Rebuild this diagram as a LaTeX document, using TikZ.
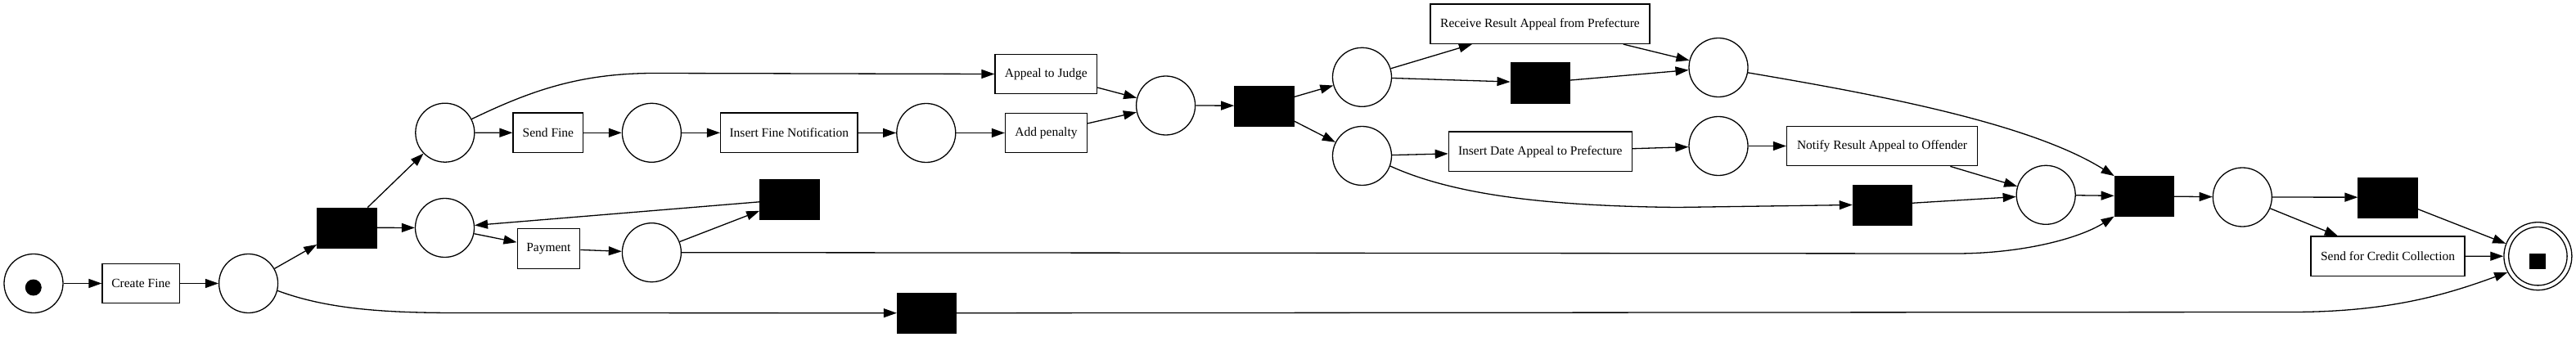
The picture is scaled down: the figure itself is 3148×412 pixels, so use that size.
\documentclass[tikz,border=0pt]{standalone}
\usepackage{fontspec}
\setmainfont{Liberation Serif}
\usetikzlibrary{arrows.meta}
\begin{document}
\begin{tikzpicture}[x=1pt,y=-1pt,
  place/.style={circle,draw,line width=1.3pt,minimum size=72pt,inner sep=0pt},
  trans/.style={rectangle,fill=black,draw=black,minimum width=72.5pt,minimum height=49pt,inner sep=0pt},
  act/.style={rectangle,draw,line width=1.3pt,minimum height=48.5pt,inner sep=0pt,font=\fontsize{15.5}{18}\selectfont},
  arc/.style={-{Triangle[length=16pt,width=11pt]},line width=1.3pt},
]
\useasboundingbox (0,0) rectangle (3148,412);
% places
\node[place] (start) at (41,346.5) {};
\node[circle,fill=black,minimum size=20pt,inner sep=0pt] (tok) at (40.8,351.5) {};
\node[place] (p1) at (303.6,346.5) {};
\node[place] (psend) at (543.8,162.2) {};
\node[place] (ppay) at (543.5,278.5) {};
\node[place] (p2) at (796.4,162.3) {};
\node[place] (p3) at (1131.8,162.5) {};
\node[place] (pm) at (1424.6,129) {};
\node[place] (pup) at (1664.5,94.3) {};
\node[place] (pdown) at (1664.5,190.5) {};
\node[place] (prr) at (2100,82.5) {};
\node[place] (pid) at (2100,178.5) {};
\node[place] (pj) at (2500.2,238.3) {};
\node[place] (pk) at (2740.3,241) {};
\node[place] (pap) at (796.4,308.7) {};
\node[circle,draw,line width=1.3pt,minimum size=83pt,inner sep=0pt] (end) at (3101.4,313.2) {};
\node[circle,draw,line width=1.3pt,minimum size=71.4pt,inner sep=0pt] (endin) at (3101.4,313.2) {};
\node[rectangle,fill=black,minimum width=20pt,minimum height=19pt,inner sep=0pt] (endtok) at (3101,319.3) {};
% silent transitions
\node[trans] (t1) at (423.7,278.3) {};
\node[trans] (t2) at (1544.6,129.2) {};
\node[trans] (t3) at (1882,101.2) {};
\node[trans] (t4) at (2300.2,250.5) {};
\node[trans] (t5) at (2620.1,239.8) {};
\node[trans] (t6) at (2917.8,241.2) {};
\node[trans] (t7) at (964.6,243.8) {};
\node[trans] (t8) at (1132.3,382.7) {};
% labelled transitions
\node[act,minimum width=94.6pt] (cf) at (172.3,346.5) {Create Fine};
\node[act,minimum width=85.7pt] (sf) at (669.9,162.3) {Send Fine};
\node[act,minimum width=167.4pt] (ifn) at (964.3,162.3) {Insert Fine Notification};
\node[act,minimum width=100pt] (ap) at (1278.5,162.5) {Add penalty};
\node[act,minimum width=124.5pt] (aj) at (1278.3,90.5) {Appeal to Judge};
\node[act,minimum width=268pt] (rr) at (1882,29.2) {Receive Result Appeal from Prefecture};
\node[act,minimum width=224pt] (idp) at (1882.3,185.2) {Insert Date Appeal to Prefecture};
\node[act,minimum width=233pt] (nr) at (2300,178.5) {Notify Result Appeal to Offender};
\node[act,minimum width=188pt] (sc) at (2918,313.3) {Send for Credit Collection};
\node[act,minimum width=76.5pt] (pay) at (670.4,304) {Payment};
% arcs
\draw[arc] (start) -- (cf);
\draw[arc] (cf) -- (p1);
\draw[arc] (p1) -- (t1);
\draw[arc] (p1.-14) .. controls (400,378) and (470,382.5) .. (560,382.5) -- (t8.west);
\draw[arc] (t1) -- (psend);
\draw[arc] (t1) -- (ppay);
\draw[arc] (psend) -- (sf);
\draw[arc] (psend.27) .. controls (650,110) and (710,89.5) .. (800,89.5) -- (aj.west);
\draw[arc] (sf) -- (p2);
\draw[arc] (p2) -- (ifn);
\draw[arc] (ifn) -- (p3);
\draw[arc] (p3) -- (ap);
\draw[arc] (ap) -- (pm);
\draw[arc] (aj) -- (pm);
\draw[arc] (pm) -- (t2);
\draw[arc] (t2) -- (pup);
\draw[arc] (t2) -- (pdown);
\draw[arc] (pup) -- (rr);
\draw[arc] (pup) -- (t3);
\draw[arc] (rr) -- (prr);
\draw[arc] (t3) -- (prr);
\draw[arc] (prr.-10) .. controls (2290,115) and (2480,150) .. (t5.north west);
\draw[arc] (pdown) -- (idp);
\draw[arc] (pdown.-20) .. controls (1780,240) and (1900,252) .. (2050,253.5) -- (t4.west);
\draw[arc] (idp) -- (pid);
\draw[arc] (pid) -- (nr);
\draw[arc] (nr) -- (pj);
\draw[arc] (t4) -- (pj);
\draw[arc] (pj) -- (t5);
\draw[arc] (t5) -- (pk);
\draw[arc] (pk) -- (t6);
\draw[arc] (pk) -- (sc);
\draw[arc] (t6) -- (end);
\draw[arc] (sc) -- (end);
\draw[arc] (t8.east) -- (2800,381.5) .. controls (2920,381.5) and (2990,360) .. (end.208);
\draw[arc] (ppay) -- (pay);
\draw[arc] (pay) -- (pap);
\draw[arc] (pap) -- (t7);
\draw[arc] (t7) -- (ppay);
\draw[arc] (pap.east) -- (2390,310) .. controls (2470,310) and (2540,292) .. (t5.south west);
\end{tikzpicture}
\end{document}
